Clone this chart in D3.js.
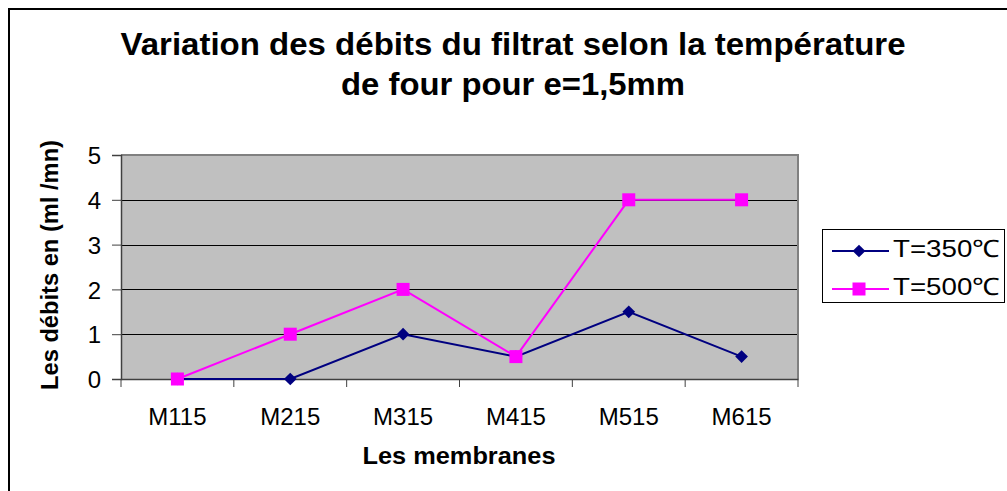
<!DOCTYPE html>
<html><head><meta charset="utf-8">
<script src="https://cdn.jsdelivr.net/npm/d3@7"></script>
<style>body{margin:0;background:#fff}svg{display:block;font-family:"Liberation Sans",Arial,sans-serif}</style>
</head><body>
<svg id="c" width="1007" height="491"></svg>
<script>
const categories = ["M115","M215","M315","M415","M515","M615"];
const seriesNames = ["T=350℃","T=500℃"];
const values350 = [0,0,1,0.5,1.5,0.5];
const values500 = [0,1,2,0.5,4,4];
const yTicks = [0,1,2,3,4,5];
const titleLines = ["Variation des débits du filtrat selon la température","de four pour e=1,5mm"];
const xTitle = "Les membranes";
const yTitle = "Les débits en (ml /mn)";

const svg = d3.select("#c");
const L = 121, R = 798, T = 155, B = 379;
const x = d3.scaleBand().domain(categories).range([L,R]);
const y = d3.scaleLinear().domain([0,5]).range([B,T]);
const FONT = "Liberation Sans, Arial, sans-serif";

// outer frame
svg.append("path").attr("d","M9,1000 V9 H1010").attr("fill","none").attr("stroke","#000").attr("stroke-width",2);

// plot area
svg.append("rect").attr("x",L).attr("y",T).attr("width",R-L).attr("height",B-T).attr("fill","#c0c0c0");
svg.append("g").selectAll("line").data(yTicks.filter(d=>d>0 && d<5)).join("line")
  .attr("x1",L).attr("x2",R).attr("y1",d=>Math.round(y(d))+0.5).attr("y2",d=>Math.round(y(d))+0.5)
  .attr("stroke","#000").attr("stroke-width",1);
svg.append("path").attr("d",`M${L},${T} H${R} V${B}`).attr("fill","none").attr("stroke","#808080").attr("stroke-width",2);

// y axis
const ya = svg.append("g").attr("transform",`translate(${L},0)`)
  .call(d3.axisLeft(y).tickValues(yTicks).tickSize(9).tickPadding(11).tickFormat(d3.format("d")));
ya.select(".domain").attr("stroke","#404040").attr("stroke-width",1.5);
ya.selectAll(".tick line").attr("stroke","#404040");
ya.selectAll("text").attr("font-size",24).attr("fill","#000").attr("font-family",FONT).attr("dy","0.36em");

// x axis
const xa = svg.append("g").attr("transform",`translate(0,${B})`)
  .call(d3.axisBottom(x).tickSize(0).tickPadding(29));
xa.select(".domain").attr("stroke","#404040").attr("stroke-width",1.5);
xa.selectAll("text").attr("font-size",24).attr("fill","#000").attr("font-family",FONT);
const bounds = categories.map(c=>x(c)).concat([R]);
svg.append("g").selectAll("line").data(bounds).join("line")
  .attr("x1",d=>d).attr("x2",d=>d).attr("y1",B).attr("y2",B+8).attr("stroke","#404040").attr("stroke-width",1);

// series
const cx = c => x(c)+x.bandwidth()/2;
const line = d3.line().x((d,i)=>cx(categories[i])).y(d=>y(d));
svg.append("path").datum(values350).attr("d",line).attr("fill","none").attr("stroke","#000080").attr("stroke-width",2);
svg.append("path").datum(values500).attr("d",line).attr("fill","none").attr("stroke","#ff00ff").attr("stroke-width",2);
svg.append("g").selectAll("path").data(values350).join("path")
  .attr("d",d3.symbol().type(d3.symbolSquare).size(81))
  .attr("transform",(d,i)=>`translate(${cx(categories[i])},${y(d)}) rotate(45)`)
  .attr("fill","#000080");
svg.append("g").selectAll("rect").data(values500).join("rect")
  .attr("x",(d,i)=>cx(categories[i])-6.5).attr("y",d=>y(d)-6.5).attr("width",13).attr("height",13)
  .attr("fill","#ff00ff");

// titles
const titleLen = [785, 344];
svg.append("g").selectAll("text").data(titleLines).join("text")
  .attr("x",513).attr("y",(d,i)=>55+i*40).attr("text-anchor","middle")
  .attr("font-size",31).attr("font-weight","bold")
  .attr("textLength",(d,i)=>titleLen[i]).attr("lengthAdjust","spacingAndGlyphs").text(d=>d);
svg.append("text").attr("x",459).attr("y",464).attr("text-anchor","middle")
  .attr("font-size",24).attr("font-weight","bold")
  .attr("textLength",193).attr("lengthAdjust","spacingAndGlyphs").text(xTitle);
svg.append("text").attr("transform",`translate(58,265) rotate(-90)`).attr("text-anchor","middle")
  .attr("font-size",24).attr("font-weight","bold")
  .attr("textLength",250).attr("lengthAdjust","spacingAndGlyphs").text(yTitle);

// legend
const lg = svg.append("g");
lg.append("rect").attr("x",822.5).attr("y",229.5).attr("width",182).attr("height",73).attr("fill","#fff").attr("stroke","#000").attr("stroke-width",1);
const colors = ["#000080","#ff00ff"];
seriesNames.forEach((n,i)=>{
  const yy = 251 + i*38;
  lg.append("line").attr("x1",832).attr("x2",889).attr("y1",yy).attr("y2",yy).attr("stroke",colors[i]).attr("stroke-width",2);
  if(i===0){
    lg.append("path").attr("d",d3.symbol().type(d3.symbolSquare).size(81)).attr("transform",`translate(859,${yy}) rotate(45)`).attr("fill",colors[i]);
  } else {
    lg.append("rect").attr("x",852.5).attr("y",yy-6.5).attr("width",13).attr("height",13).attr("fill",colors[i]);
  }
  lg.append("text").attr("x",893).attr("y",yy+6).attr("font-size",24)
    .attr("textLength",107).attr("lengthAdjust","spacingAndGlyphs").text(n);
});
</script>
</body></html>
